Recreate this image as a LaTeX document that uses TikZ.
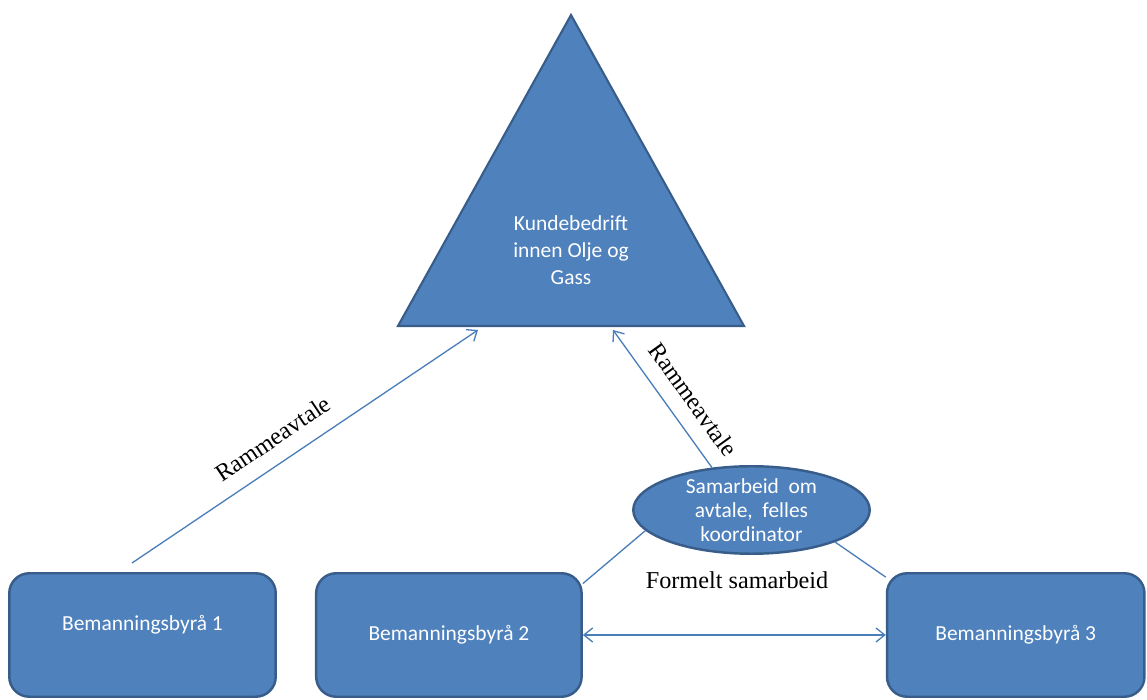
\documentclass[tikz,border=0pt]{standalone}
\usepackage{fontspec}
\setmainfont{Liberation Serif}
\newfontfamily\calfont{Carlito}
\usepackage{tikz}
\usepackage{xcolor}
\usetikzlibrary{positioning, arrows.meta}
\usetikzlibrary{shapes, positioning}

\definecolor{boxblue}{HTML}{4F81BD}
\definecolor{boxedge}{HTML}{385D8A}
\definecolor{linkblue}{HTML}{4A7EBB}

\tikzset{
    byraa/.style={draw=boxedge, fill=boxblue, line width=1.4pt, rounded corners=0.4cm,
        minimum height=2.47cm, text=white, font=\calfont\fontsize{12.2}{15}\selectfont},
    hvit/.style={text=white, align=center, font=\calfont\fontsize{12.2}{15.3}\selectfont},
    link/.style={draw=linkblue, line width=0.75pt},
    pil/.style={-{Straight Barb[length=5pt,width=8pt]}},
    avtale/.style={font=\fontsize{13.8}{16}\selectfont, sloped, above=0.19cm}
}

\begin{document}
\begin{tikzpicture}[x=0.02cm, y=0.02cm]
        \useasboundingbox (0,0) rectangle (1147,700);
        % kunden
        \draw[draw=boxedge, fill=boxblue, line width=1.2pt] (571,685) -- (744,374) -- (398,374) -- cycle;
        \node[hvit] (kunde) at (571,450) {Kundebedrift\\innen Olje og\\Gass};
        \coordinate (k1) at (478,370);
        \coordinate (k2) at (613,370);
        % byraaene
        \node[byraa, minimum width=5.33cm] (b1) at (142.5,65)
            {\raisebox{0.2cm}[\height][\depth]{Bemanningsbyrå 1}};
        \node[byraa, minimum width=5.31cm, right=0.76cm of b1] (b2) {Bemanningsbyrå 2};
        \node[byraa, minimum width=5.15cm, right=6.06cm of b2] (b3) {Bemanningsbyrå 3};
        % samarbeid
        \node[ellipse, draw=boxedge, fill=boxblue, line width=1.4pt, minimum width=4.73cm,
            minimum height=1.75cm,
            label={[hvit, font=\calfont\fontsize{12.2}{13.6}\selectfont]center:{Samarbeid\ \ om\\avtale,\ \ felles\\koordinator}}]
            (sam) at (751.5,190) {};
        \node[font=\fontsize{13.8}{16}\selectfont] (formelt) at (737,120) {Formelt samarbeid};
        \coordinate (r1) at (132,137);
        \draw[link, pil] (r1) -- node[avtale, pos=0.447] {Rammeavtale} (k1);
        \draw[link, pil] (sam.133) -- node[avtale, pos=0.39] {Rammeavtale} (k2);
        \draw[link] (b2.21) -- (sam.191);
        \draw[link] (sam.-21) -- (b3.156);
        \draw[link, {Straight Barb[length=5pt,width=8pt]}-{Straight Barb[length=5pt,width=8pt]}] (b2.east) -- (b3.west);
\end{tikzpicture}
\end{document}
